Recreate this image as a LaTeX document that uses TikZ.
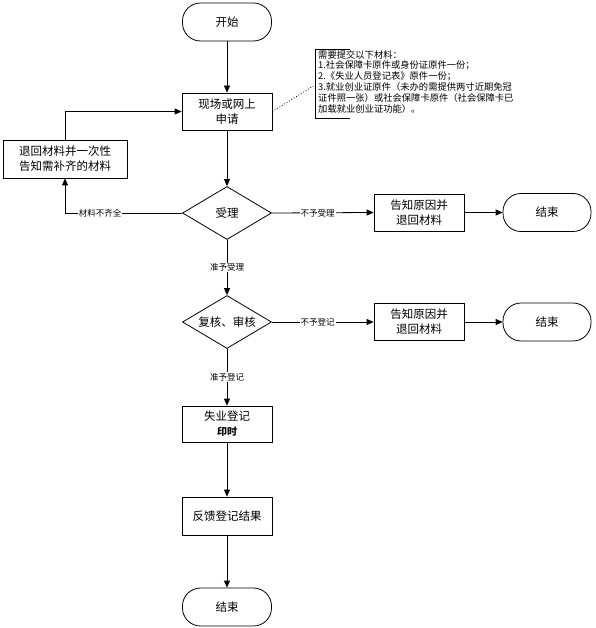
\documentclass[tikz,border=0pt]{standalone}
\usepackage{fontspec}
\setmainfont{Liberation Serif}
\newfontfamily\cjk{Noto Sans CJK SC}
\usetikzlibrary{shapes.geometric,arrows.meta}
\begin{document}
\begin{tikzpicture}[x=1pt,y=-1pt,
  every node/.style={font=\cjk},
  box/.style={draw,thick,minimum width=90pt,minimum height=37pt,align=center,inner sep=1pt,font=\cjk\fontsize{11.5}{15}\selectfont},
  term/.style={draw,thick,rounded corners=18pt,minimum width=89pt,minimum height=38pt,font=\cjk\fontsize{11.5}{15}\selectfont},
  dec/.style={draw,thick,diamond,aspect=1.7,minimum width=89pt,minimum height=53pt,inner sep=0pt,font=\cjk\fontsize{11.5}{15}\selectfont},
  lab/.style={fill=white,inner sep=1pt,font=\cjk\fontsize{8.5}{9}\selectfont},
  arr/.style={thick,-{Triangle[length=7pt,width=6pt]}},
  ln/.style={thick}]
\useasboundingbox (0,0) rectangle (595,628);
\node[term] (start) at (227,22) {开始};
\node[box] (apply) at (227,111.5) {现场或网上\\申请};
\node[box,minimum width=124pt,minimum height=38pt] (ret) at (65,159) {退回材料并一次性\\告知需补齐的材料};
\node[dec] (d1) at (227,213) {受理};
\node[box] (r1) at (419,212.5) {告知原因并\\退回材料};
\node[term,minimum width=88pt] (e1) at (547,212.5) {结束};
\node[dec] (d2) at (227,322) {复核、审核};
\node[box] (r2) at (419,322) {告知原因并\\退回材料};
\node[term,minimum width=88pt] (e2) at (547,322) {结束};
\node[box,minimum height=36pt] (reg) at (227,424) {失业登记\\{\bfseries\fontsize{10}{12}\selectfont 印时}};
\node[box,minimum height=38pt] (fb) at (227,516) {反馈登记结果};
\node[term] (end) at (227,607) {结束};
% note
\coordinate (nt) at (350,49);
\coordinate (nb) at (350,118);
\coordinate (nm) at (315,85);
\draw[thick] (nt) -| (315,118) -- (nb);
\node[anchor=north west,align=left,inner sep=0pt,font=\cjk\fontsize{9.3}{10.8}\selectfont] (note) at (318,50) {需要提交以下材料：\\1.社会保障卡原件或身份证原件一份；\\2.《失业人员登记表》原件一份；\\3.就业创业证原件（未办的需提供两寸近期免冠\\证件照一张）或社会保障卡原件（社会保障卡已\\加载就业创业证功能）。};
\draw[dotted,thick] (apply.east) -- (nm);
% connectors
\draw[arr] (start) -- (apply);
\draw[arr] (apply) -- (d1);
\draw[arr] (ret.north) |- (apply.west);
\draw[arr] (d1.west) -| node[lab,pos=0.35]{材料不齐全} (ret.south);
\draw[arr] (d1.east) -- node[lab,pos=0.45]{不予受理} (r1.west);
\draw[arr] (r1) -- (e1);
\draw[arr] (d1.south) -- node[lab]{准予受理} (d2.north);
\draw[arr] (d2.east) -- node[lab,pos=0.45]{不予登记} (r2.west);
\draw[arr] (r2) -- (e2);
\draw[arr] (d2.south) -- node[lab]{准予登记} (reg.north);
\draw[arr] (reg) -- (fb);
\draw[arr] (fb) -- (end);
\end{tikzpicture}
\end{document}
